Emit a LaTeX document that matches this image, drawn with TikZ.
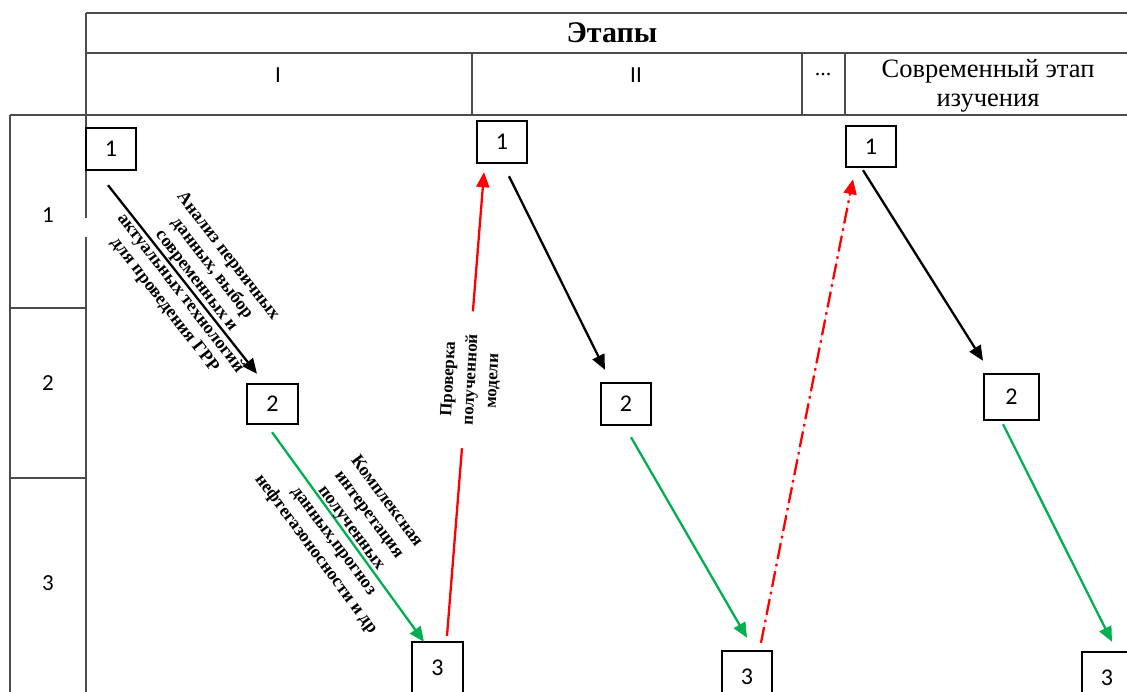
\documentclass[tikz,border=0pt]{standalone}
\usepackage{fontspec}
\setmainfont{Liberation Serif}
\newfontfamily\calfont{Carlito}
\usetikzlibrary{arrows.meta,calc}
\definecolor{gcol}{RGB}{0,176,80}
\begin{document}
\begin{tikzpicture}[x=1pt,y=-1pt,
  gridline/.style={draw=black!70, line width=1.5pt},
  numbox/.style={draw=black, line width=2.4pt, minimum width=50pt, minimum height=42pt, inner sep=0pt, font=\calfont\fontsize{24}{28}\selectfont},
  arr/.style={line width=2.3pt, -{Triangle[length=15pt,width=13pt]}},
  blk/.style={arr, draw=black},
  grn/.style={arr, draw=gcol, fill=gcol},
  rd/.style={arr, draw=red, fill=red},
  lbl/.style={font=\bfseries\fontsize{18}{20}\selectfont, align=center, inner sep=0pt},
  hdr/.style={font=\fontsize{26.5}{29}\selectfont, align=center, inner sep=0pt},
  cal/.style={font=\calfont\fontsize{23}{26}\selectfont, inner sep=0pt},
]
\useasboundingbox (0,0) rectangle (1127,692);
\clip (0,0) rectangle (1127,692);
\fill[white] (0,0) rectangle (1127,692);

% table grid
\draw[gridline] (86,13) -- (1127,13);
\draw[gridline] (86,53) -- (1127,53);
\draw[gridline] (10,115) -- (1127,115);
\draw[gridline] (86,13) -- (86,218);
\draw[gridline] (86,237) -- (86,692);
\draw[gridline] (10,115) -- (10,692);
\draw[gridline] (10,308) -- (86,308);
\draw[gridline] (10,478) -- (86,478);
\draw[gridline] (472,53) -- (472,116);
\draw[gridline] (802,53) -- (802,116);
\draw[gridline] (845,53) -- (845,116);

% headers
\node[hdr, font=\bfseries\fontsize{30}{33}\selectfont] (etapy) at (612,33) {Этапы};
\node[cal] (hI) at (278,75) {I};
\node[cal] (hII) at (636,75) {II};
\node[hdr, font=\fontsize{22}{24}\selectfont] (hdots) at (823,75) {...};
\node[hdr] (hsov) at (988,86) {Современный этап\\изучения};
\node[cal] (r1) at (48,215) {1};
\node[cal] (r2) at (48,383) {2};
\node[cal] (r3) at (48,583) {3};

% boxes
\node[numbox] (b11) at (111,149) {1};
\node[numbox, minimum width=51pt, minimum height=40pt] (b12) at (272.5,404) {2};
\node[numbox, minimum width=51pt, minimum height=52pt] (b13) at (437.5,668) {3};
\node[numbox] (b21) at (502,142) {1};
\node[numbox] (b22) at (626,404) {2};
\node[numbox, minimum height=52pt] (b23) at (747,677) {3};
\node[numbox, minimum height=41pt] (b31) at (871,146.5) {1};
\node[numbox, minimum width=55pt, minimum height=46pt] (b32) at (1011.5,397) {2};
\node[numbox, minimum height=52pt] (b33) at (1107,678) {3};

% arrows
\draw[blk] ($(b11.south)+(-3,14)$) -- ($(b12.north)+(-15.5,-9)$);
\draw[grn] ($(b12.south)+(-0.5,7)$) -- ($(b13.north)+(-13.5,1)$);
\draw[rd] ($(b13.north)+(9.5,-5)$) -- ($(b21.south)+(-18,8)$);
\draw[blk] ($(b21.south)+(7,12)$) -- ($(b22.north)+(-21,-12)$);
\draw[grn] ($(b22.south)+(5,11)$) -- ($(b23.north)+(0,-12)$);
\draw[rd, dash pattern=on 16pt off 5pt on 2.5pt off 5pt] ($(b23.north)+(14,-7)$) -- ($(b31.south)+(-18,11)$);
\draw[blk] ($(b31.south)+(-8,2)$) -- ($(b32.north)+(-28.5,-12)$);
\draw[grn] ($(b32.south)+(-8.5,3)$) -- ($(b33.north)+(5,-9)$);

% labels
\node[lbl, rotate=-52.3] (l1) at (196,281) {Анализ первичных\\данных, выбор\\современных и\\актуальных технологий\\для проведения ГРР};
\node[lbl, rotate=-53.3, font=\bfseries\fontsize{18}{22}\selectfont] (l2) at (351,528) {Комплексная\\интеретация\\полученных\\данных,прогноз\\нефтегазоносности и др};
\node[lbl, rotate=87, fill=white, inner xsep=23pt, inner ysep=4pt, font=\bfseries\fontsize{17}{22}\selectfont] (l3) at (471,380) {Проверка\\полученной\\модели};
\end{tikzpicture}
\end{document}
